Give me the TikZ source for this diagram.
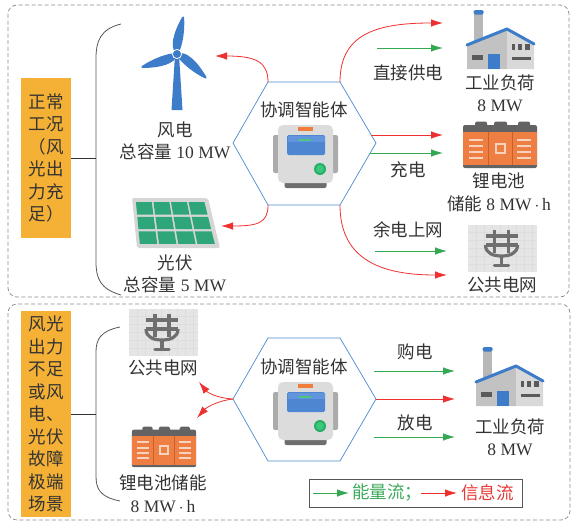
\documentclass[tikz,border=0pt]{standalone}
\usepackage{fontspec}
\setmainfont{Liberation Serif}
\newfontfamily\cjk{Noto Sans CJK SC}
\usetikzlibrary{arrows.meta,calc}

\definecolor{txt}{HTML}{333333}
\definecolor{flowgreen}{HTML}{34A853}
\definecolor{flowred}{HTML}{EE3030}
\definecolor{legendgreen}{HTML}{3DAA5C}
\definecolor{legendred}{HTML}{E53935}
\definecolor{hexblue}{HTML}{4A8AD0}
\definecolor{boxorange}{HTML}{F4B135}
\definecolor{dashgray}{HTML}{8A8A8A}
\definecolor{bracegray}{HTML}{555555}
\definecolor{iconblue}{HTML}{3D7CC9}
\definecolor{panelgray}{HTML}{D6D6D6}
\definecolor{cellgreen}{HTML}{2FA57A}
\definecolor{devbody}{HTML}{DCDCDC}
\definecolor{devside}{HTML}{ABABAB}
\definecolor{devdark}{HTML}{6E6E6E}
\definecolor{devorange}{HTML}{EF7D3C}
\definecolor{devscreen}{HTML}{4F86D2}
\definecolor{devscreentop}{HTML}{6196DC}
\definecolor{devgreenbar}{HTML}{4CC67B}
\definecolor{devgreen}{HTML}{26AE66}
\definecolor{devgreenlight}{HTML}{3CC77D}
\definecolor{chimgray}{HTML}{B8B8B8}
\definecolor{wallleft}{HTML}{C2C2C2}
\definecolor{wallright}{HTML}{D9D9D9}
\definecolor{winmid}{HTML}{5A5A5A}
\definecolor{batdark}{HTML}{636363}
\definecolor{batorange}{HTML}{EF7E43}
\definecolor{batline}{HTML}{C8612C}
\definecolor{batmark}{HTML}{F6D3BE}
\definecolor{gridbg}{HTML}{E5E5E5}
\definecolor{gridfaint}{HTML}{DDDDDD}
\definecolor{pylon}{HTML}{6F6F6F}
\definecolor{legendgray}{HTML}{555555}

\newcommand{\lblfont}{\fontsize{17.5}{22.5}\selectfont}

\tikzset{
  lbl/.style={font=\lblfont, text=txt, inner sep=0pt, align=center},
  panelbox/.style={draw=dashgray, dash pattern=on 4pt off 2.5pt, line width=0.7pt, rounded corners=9pt},
  scenario/.style={fill=boxorange, inner sep=0pt, minimum width=50pt, text=txt,
    font=\lblfont\cjk, align=center},
  energy/.style={draw=flowgreen, line width=0.8pt, -{Latex[length=12pt,width=7.5pt]}},
  info/.style={draw=flowred, line width=0.8pt, -{Latex[length=12pt,width=7.5pt]}},
  hexframe/.style={draw=hexblue, line width=0.7pt, line join=miter},
  brace/.style={draw=bracegray, line width=0.8pt},
  % coordinator device
  device/.pic={
    \fill[devside, rounded corners=2pt] (-32.5,-20) rectangle (-26,18);
    \fill[devside, rounded corners=2pt] (26,-20) rectangle (32.5,18);
    \fill[devdark, rounded corners=2pt] (-21,24) rectangle (21,33);
    \fill[devbody, rounded corners=5pt] (-27.5,-30) rectangle (27.5,28);
    \fill[devorange] (-7.5,-28) rectangle (7.5,-24.5);
    \fill[devscreen, rounded corners=1.5pt] (-18.5,-20) rectangle (19.5,0);
    \fill[devscreentop] (-18,-19.5) rectangle (19,-13);
    \fill[devgreenbar] (-6.5,-16.5) rectangle (5.5,-14.5);
    \fill[devgreen] (14.5,14) circle (6);
    \fill[devgreenlight] (14.5,14) circle (4);
  },
  % industrial load
  factory/.pic={
    \fill[chimgray] (-26,-27) rectangle (-17,6);
    \fill[iconblue, rounded corners=1.5pt] (-26.5,-30) rectangle (-16.5,-25.5);
    \fill[wallleft] (-33,5) -- (7,-11) -- (7,29) -- (-33,29) -- cycle;
    \fill[wallright] (7,-11) -- (34,4) -- (34,29) -- (7,29) -- cycle;
    \draw[iconblue, line width=3pt, line join=round, line cap=round] (-33,5) -- (7,-11) -- (34,4);
    \fill[winmid] (-28,15) rectangle (-17,20);
    \fill[iconblue] (-12,14) rectangle (0,29);
    \fill[winmid] (12,4) rectangle (15,10);
    \fill[winmid] (18,4) rectangle (22,10);
    \fill[winmid] (25,4) rectangle (30,10);
    \fill[winmid] (12,17) rectangle (31,20);
  },
  % lithium battery storage
  battery/.pic={
    \fill[batdark, rounded corners=1.5pt] (-25,-24.5) rectangle (-13,-18);
    \fill[batdark, rounded corners=1.5pt] (-6,-24.5) rectangle (7,-18);
    \fill[batdark, rounded corners=1.5pt] (18,-24.5) rectangle (30,-18);
    \fill[batdark, rounded corners=2pt] (-37,-21) rectangle (37,22);
    \fill[batorange] (-37,-14) rectangle (37,19);
    \draw[batline, line width=1pt] (-12,-14) -- (-12,19) (12,-14) -- (12,19);
    \foreach \yy in {-6.5,-0.5,5.5,11.5}{
      \draw[batmark, line width=2pt] (-31,\yy) -- (-17,\yy) (17,\yy) -- (31,\yy);
    }
    \draw[batmark, line width=2pt] (-4.5,-2) rectangle (4.5,7);
  },
  % public grid
  pylonicon/.pic={
    \fill[gridbg] (-34.5,-23.5) rectangle (34.5,23.5);
    \foreach \gx in {-26,-18,...,30}{\draw[gridfaint, line width=0.3pt] (\gx,-23.5) -- (\gx,23.5);}
    \foreach \gy in {-16,-8,...,22}{\draw[gridfaint, line width=0.3pt] (-34.5,\gy) -- (34.5,\gy);}
    \begin{scope}[pylon, line width=3.2pt]
      \draw (-17,-12.5) -- (15,-12.5) (-17,-3.5) -- (15,-3.5);
      \draw (-8,-18.5) -- (-8,4.5) (6,-18.5) -- (6,4.5);
      \draw (-17,-3.5) .. controls (-17,5) and (-9,7.5) .. (-1,7.5)
            .. controls (7,7.5) and (15,5) .. (15,-3.5);
      \draw (-1,7.5) -- (-1,17);
      \draw[line cap=round] (-8,17) -- (6,17);
    \end{scope}
  },
}

\begin{document}
\begin{tikzpicture}[x=1pt,y=-1pt]
\useasboundingbox (0,0) rectangle (573,522);

% ---------- panel frames ----------
\draw[panelbox] (8,5) rectangle (569,297);
\draw[panelbox] (8,304) rectangle (570,520);

% ================= normal operation =================
\node[scenario, minimum height=160pt] (sc1) at (46,158)
  {正常\\工况\\（风\\光出\\力充\\足）};
\coordinate (br1) at (96,158);
\draw[brace] (121,24) .. controls (100,29) and (96,42) .. (96,58) -- (96,262)
  .. controls (96,278) and (100,289) .. (121,295);
\draw[line width=1pt, draw=txt] (sc1.east) -- (br1);

% wind turbine
\begin{scope}[shift={(177,54)}]
  \fill[iconblue] (-2.2,4) -- (2.2,4) -- (5.5,56) -- (-5.5,56) -- cycle;
  \foreach \a in {81,201,321}{
    \fill[iconblue, rotate=\a] (0,-1) .. controls (6,-8.5) and (20,-7) .. (37,-0.8)
      .. controls (38.8,0) and (38.3,1.3) .. (36.5,1.5) .. controls (22,4.5) and (8,4) .. (0,1);
  }
  \fill[iconblue, draw=white, line width=0.8pt] (0,0) circle (4.6);
\end{scope}
\node[lbl] (windlbl) at (175,141) {{\cjk 风电}\\{\cjk 总容量} 10 MW};

% photovoltaic panel
\fill[panelgray, rounded corners=2pt] (132,198) -- (208,198) -- (220,248) -- (137,248) -- cycle;
\foreach \i in {0,...,3}{
  \foreach \j in {0,1,2}{
    \pgfmathsetmacro{\ua}{\i/4+0.012}
    \pgfmathsetmacro{\ub}{(\i+1)/4-0.012}
    \pgfmathsetmacro{\va}{\j/3+0.025}
    \pgfmathsetmacro{\vb}{(\j+1)/3-0.025}
    \fill[cellgreen]
      ({135+4*\va+\ua*(70+7*\va)},{201+44*\va}) --
      ({135+4*\va+\ub*(70+7*\va)},{201+44*\va}) --
      ({135+4*\vb+\ub*(70+7*\vb)},{201+44*\vb}) --
      ({135+4*\vb+\ua*(70+7*\vb)},{201+44*\vb}) -- cycle;
  }
}
\node[lbl] (pvlbl) at (175,274) {{\cjk 光伏}\\{\cjk 总容量} 5 MW};

% coordinating agent
\coordinate (hA) at (233,143);
\coordinate (hB) at (268,82);
\coordinate (hC) at (340,82);
\coordinate (hD) at (376,143);
\coordinate (hE) at (340,205);
\coordinate (hF) at (268,205);
\draw[hexframe] (hA) -- (hB) -- (hC) -- (hD) -- (hE) -- (hF) -- cycle;
\node[lbl, font=\lblfont\cjk] (agent1) at (304,110) {协调智能体};
\pic (dev1) at (305.5,155) {device};

% loads
\pic (fac1) at (500,40) {factory};
\node[lbl] (fac1lbl) at (500,93.5) {{\cjk 工业负荷}\\8 MW};
\pic (bat1) at (500,146) {battery};
\node[lbl] (bat1lbl) at (499,192.5) {{\cjk 锂电池}\\{\cjk 储能} 8 MW\,$\cdot$\,h};
\pic (grid1) at (502.5,248.5) {pylonicon};
\node[lbl, font=\lblfont\cjk] (grid1lbl) at (502,285) {公共电网};

% flows, normal operation
\coordinate (windin) at (215,56);
\coordinate (pvin) at (221,226);
\draw[info] (hB) .. controls (268,62) and (256,56) .. (windin);
\draw[info] (hF) .. controls (268,223) and (258,226) .. (pvin);

\coordinate (fac1in) at (443,23);
\coordinate (sup0) at (377,48);
\coordinate (sup1) at (443,48);
\draw[info] (hC) .. controls (340,33) and (378,23) .. (fac1in);
\draw[energy] (sup0) -- (sup1);
\node[lbl, font=\lblfont\cjk] (supplylbl) at (408,73) {直接供电};

\coordinate (chg0) at (371,135);
\coordinate (chg1) at (443,135);
\coordinate (chg2) at (370,153);
\coordinate (chg3) at (443,153);
\draw[info] (chg0) -- (chg1);
\draw[energy] (chg2) -- (chg3);
\node[lbl, font=\lblfont\cjk] (chargelbl) at (408,170) {充电};

\coordinate (sur0) at (375,251);
\coordinate (sur1) at (447,251);
\coordinate (grid1in) at (447,275);
\draw[energy] (sur0) -- (sur1);
\draw[info] (hE) .. controls (340,262) and (385,275) .. (grid1in);
\node[lbl, font=\lblfont\cjk] (surpluslbl) at (408,230) {余电上网};

% ================= shortage / extreme scenario =================
\node[scenario, minimum height=206pt] (sc2) at (46,414)
  {风光\\出力\\不足\\或风\\电、\\光伏\\故障\\极端\\场景};
\coordinate (br2) at (96,414);
\draw[brace] (120,327) .. controls (100,331) and (96,340) .. (96,352) -- (96,476)
  .. controls (96,489) and (100,497) .. (120,501);
\draw[line width=1pt, draw=txt] (sc2.east) -- (br2);

\pic (grid2) at (163,332.5) {pylonicon};
\node[lbl, font=\lblfont\cjk] (grid2lbl) at (163,368) {公共电网};
\pic[scale=0.87] (bat2) at (164,448) {battery};
\node[lbl] (bat2lbl) at (163,494) {{\cjk 锂电池储能}\\8 MW\,$\cdot$\,h};

\coordinate (gA) at (233,399);
\coordinate (gB) at (268,338);
\coordinate (gC) at (340,338);
\coordinate (gD) at (376,399);
\coordinate (gE) at (340,461);
\coordinate (gF) at (268,461);
\draw[hexframe] (gA) -- (gB) -- (gC) -- (gD) -- (gE) -- (gF) -- cycle;
\node[lbl, font=\lblfont\cjk] (agent2) at (304,367) {协调智能体};
\pic (dev2) at (305.5,412) {device};

\pic (fac2) at (509,377) {factory};
\node[lbl] (fac2lbl) at (510,437.5) {{\cjk 工业负荷}\\8 MW};

% flows, shortage scenario
\coordinate (grid2in) at (199,382);
\coordinate (bat2in) at (197,418);
\draw[info] (gA) .. controls (216,398) and (207,392) .. (grid2in);
\draw[info] (gA) .. controls (216,401) and (206,408) .. (bat2in);

\coordinate (buy0) at (374,371);
\coordinate (buy1) at (455,371);
\coordinate (fac2in) at (455,399);
\coordinate (dis0) at (374,437);
\coordinate (dis1) at (455,437);
\draw[energy] (buy0) -- (buy1);
\draw[info] (gD) -- (fac2in);
\draw[energy] (dis0) -- (dis1);
\node[lbl, font=\lblfont\cjk] (buylbl) at (415,352) {购电};
\node[lbl, font=\lblfont\cjk] (dislbl) at (415,423) {放电};

% legend
\node[draw=legendgray, line width=0.8pt, minimum width=213pt, minimum height=28pt,
  inner sep=0pt] (legend) at (415.5,493) {};
\coordinate (lg0) at (313,493);
\coordinate (lg1) at (349,493);
\coordinate (lg2) at (421,493);
\coordinate (lg3) at (457,493);
\draw[energy] (lg0) -- (lg1);
\draw[info] (lg2) -- (lg3);
\node[lbl, font=\lblfont\cjk, text=legendgreen, anchor=west] (lgenergy) at (352,493) {能量流；};
\node[lbl, font=\lblfont\cjk, text=legendred, anchor=west] (lginfo) at (461,493) {信息流};
\end{tikzpicture}
\end{document}
